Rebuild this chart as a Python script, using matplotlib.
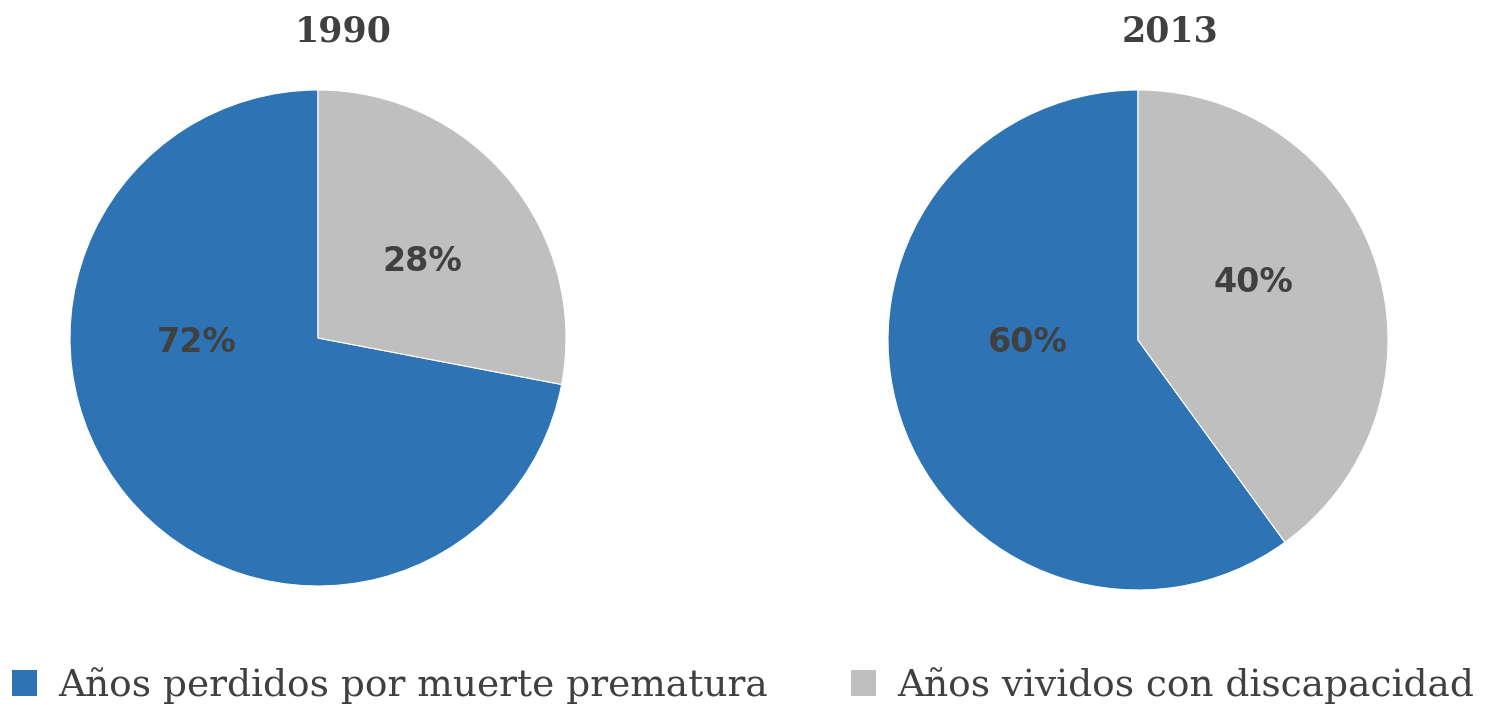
import matplotlib
matplotlib.use("Agg")
import matplotlib.pyplot as plt
from matplotlib.patches import Patch

years = ["1990", "2013"]
categories = ["Años perdidos por muerte prematura", "Años vividos con discapacidad"]
values_1990 = [72, 28]
values_2013 = [60, 40]
colors = ["#2E74B5", "#BFBFBF"]
text_color = "#404040"

plt.rcParams['font.family'] = ['DejaVu Serif']

fig = plt.figure(figsize=(14.86, 7.06), dpi=100)
W, H = 1486, 706

def add_pie(cx, cy, r, vals, title, label_pos, title_x):
    ax = fig.add_axes([(cx - r) / W, 1 - (cy + r) / H, 2 * r / W, 2 * r / H])
    wedges, _ = ax.pie(vals, colors=colors, startangle=90, counterclock=True,
                       radius=1.0, wedgeprops=dict(linewidth=0.8, edgecolor="white"))
    ax.set_xlim(-1, 1); ax.set_ylim(-1, 1)
    ax.set_aspect("equal")
    ax.axis("off")
    for v, (x, y) in zip(vals, label_pos):
        ax.text(x, y, f"{v}%", ha="center", va="center", fontsize=24,
                fontweight="bold", color=text_color, family="DejaVu Sans")
    fig.text(title_x / W, 1 - 32 / H, title, ha="center", va="center",
             fontsize=25, fontweight="bold", color=text_color)

add_pie(318, 338, 248, values_1990, years[0], [(-0.49, -0.02), (0.42, 0.31)], 343)
add_pie(1138, 340, 250, values_2013, years[1], [(-0.44, -0.01), (0.46, 0.23)], 1170)

handles = [Patch(facecolor=c, edgecolor="none") for c in colors]
fig.legend(handles, categories, loc="center", bbox_to_anchor=(0.5, 1 - 686 / H),
           ncol=2, frameon=False, fontsize=27, labelcolor=text_color,
           handlelength=0.67, handleheight=0.67, handletextpad=0.56, columnspacing=2.2)

fig.savefig("out.png", dpi=100)
